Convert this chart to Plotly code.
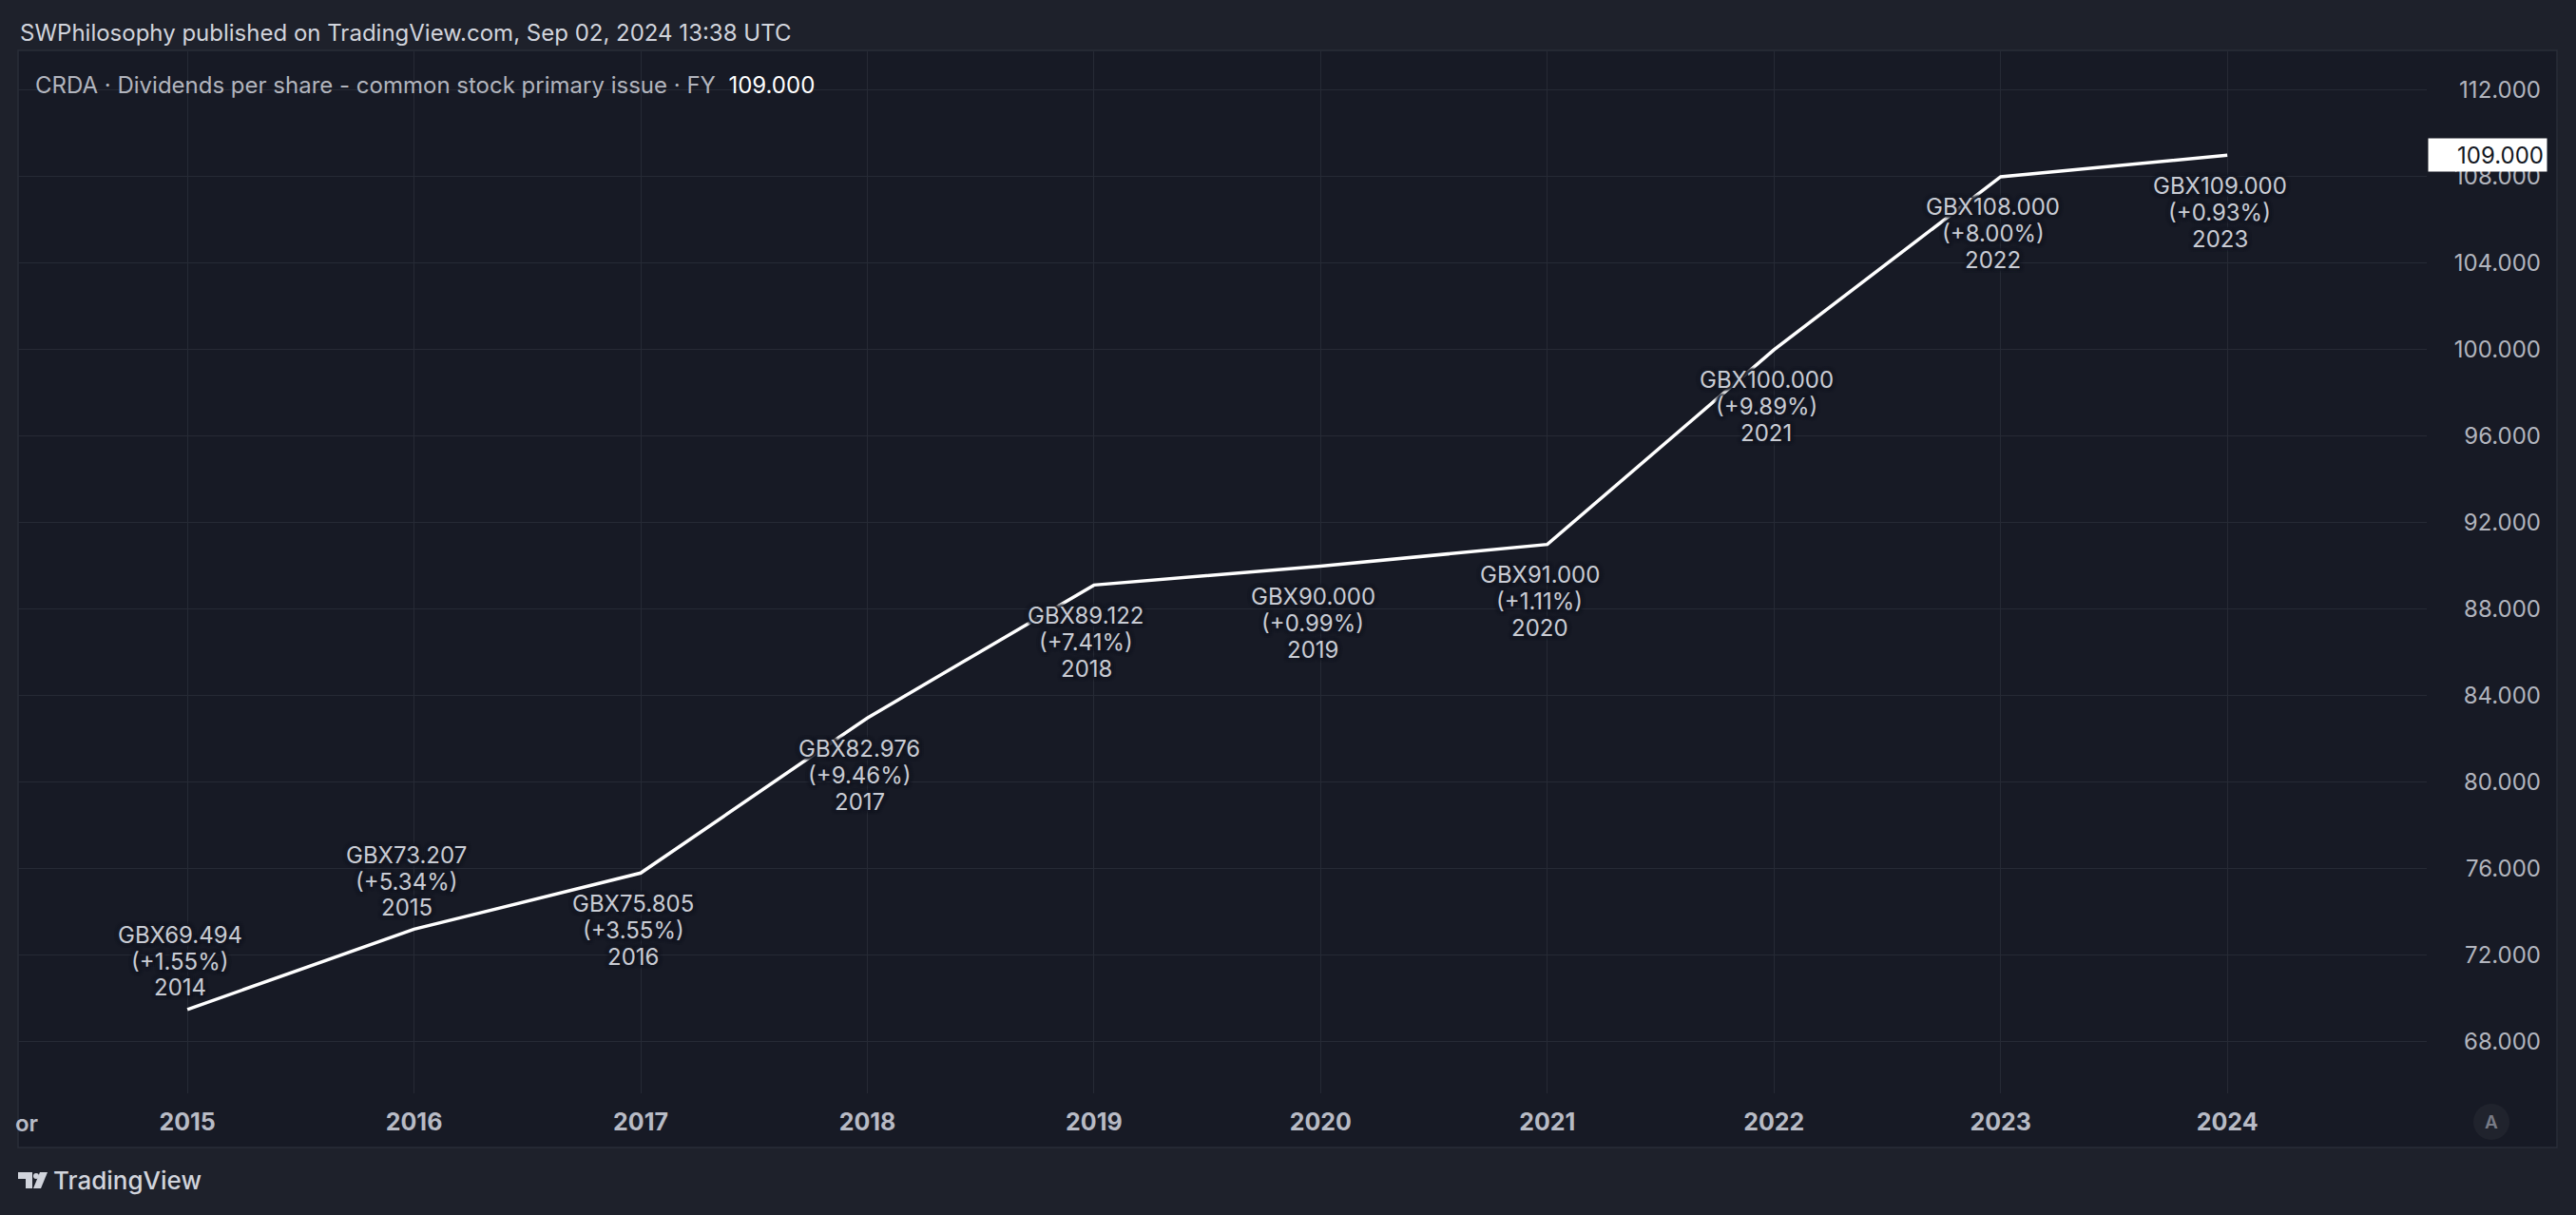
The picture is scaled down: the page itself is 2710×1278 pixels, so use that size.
import plotly.graph_objects as go

# ---- data ----
fiscal_years = [2014, 2015, 2016, 2017, 2018, 2019, 2020, 2021, 2022, 2023]
dps_values = [69.494, 73.207, 75.805, 82.976, 89.122, 90.000, 91.000, 100.000, 108.000, 109.000]
pct_change = [1.55, 5.34, 3.55, 9.46, 7.41, 0.99, 1.11, 9.89, 8.00, 0.93]
x_tick_years = [2015, 2016, 2017, 2018, 2019, 2020, 2021, 2022, 2023, 2024]
y_tick_vals = [68, 72, 76, 80, 84, 88, 92, 96, 100, 104, 108, 112]

W, H = 2710, 1278
OUTER_BG = "#1e212b"
PANE_BG = "#171a25"
GRID = "#262a35"
TXT = "#d1d4dc"
AX_TXT = "#b2b5be"
FONT = "Inter"


def px(p):
    return p / W


def py(p):
    return 1 - p / H


# period end of each fiscal year sits on the next year boundary
x_pos = [fy + 1 for fy in fiscal_years]

fig = go.Figure()
fig.add_trace(go.Scatter(
    x=x_pos, y=dps_values, mode="lines",
    line=dict(color="#ffffff", width=3.5),
    hoverinfo="skip", showlegend=False,
))

PLOT_L, PLOT_R, PLOT_T, PLOT_B = 19, 2553, 54, 1150

shapes = [
    # pane background + border
    dict(type="rect", xref="paper", yref="paper", x0=px(19), x1=px(2690), y0=py(1207), y1=py(53),
         fillcolor=PANE_BG, line=dict(color="#2a2e39", width=1.5), layer="below"),
    # auto scale button
    dict(type="circle", xref="paper", yref="paper", x0=px(2602), x1=px(2640), y0=py(1199), y1=py(1161),
         fillcolor="#20232d", line=dict(width=0)),
    # TradingView logo
    dict(type="path", xref="paper", yref="paper",
         path=f"M {px(19)} {py(1233)} L {px(34)} {py(1233)} L {px(34)} {py(1250)} L {px(27)} {py(1250)} "
              f"L {px(27)} {py(1240)} L {px(19)} {py(1240)} Z",
         fillcolor="#d1d4dc", line=dict(width=0)),
    dict(type="circle", xref="paper", yref="paper", x0=px(35), x1=px(41), y0=py(1240), y1=py(1234),
         fillcolor="#d1d4dc", line=dict(width=0)),
    dict(type="path", xref="paper", yref="paper",
         path=f"M {px(42)} {py(1233)} L {px(50)} {py(1233)} L {px(43)} {py(1250)} L {px(35)} {py(1250)} Z",
         fillcolor="#d1d4dc", line=dict(width=0)),
]

halo = ", ".join([f"{a}px {b}px 3px {PANE_BG}" for a in (-2, 0, 2) for b in (-2, 0, 2)])

annotations = [
    dict(text="SWPhilosophy published on TradingView.com, Sep 02, 2024 13:38 UTC",
         xref="paper", yref="paper", x=px(19), y=py(35), xanchor="left", yanchor="middle",
         showarrow=False, font=dict(family=FONT, size=24, color=TXT)),
    dict(text=("CRDA · Dividends per share - common stock primary issue · FY&nbsp;&nbsp;"
               f"<span style='color:#ffffff'>{dps_values[-1]:.3f}</span>"),
         xref="paper", yref="paper", x=px(35), y=py(89), xanchor="left", yanchor="middle",
         showarrow=False, font=dict(family=FONT, size=24, color=AX_TXT)),
    dict(text="TradingView", xref="paper", yref="paper", x=px(54), y=py(1241),
         xanchor="left", yanchor="middle", showarrow=False,
         font=dict(family=FONT, size=26, color=TXT, weight=500)),
    dict(text="A", xref="paper", yref="paper", x=px(2621), y=py(1180), xanchor="center", yanchor="middle",
         showarrow=False, font=dict(family=FONT, size=19, color="#787b86", weight=600)),
    dict(text="or", xref="paper", yref="paper", x=px(14), y=py(1181), xanchor="left", yanchor="middle",
         showarrow=False, font=dict(family=FONT, size=24, color="#b8bbc5", weight=600)),
    # last value price label
    dict(text=f"{dps_values[-1]:.3f}", xref="paper", yref="y", x=px(2680), y=dps_values[-1],
         xanchor="right", yanchor="middle", showarrow=False, bgcolor="#ffffff",
         width=118, height=28, borderpad=3, align="right",
         font=dict(family=FONT, size=24, color="#131722")),
]

label_above = {2014, 2015}
below_offsets = [32, 60, 88]
above_offsets = [-78, -50, -23]
for fy, xv, v, p in zip(fiscal_years, x_pos, dps_values, pct_change):
    lines = [f"GBX{v:.3f}", f"(+{p:.2f}%)", f"{fy}"]
    offs = above_offsets if fy in label_above else below_offsets
    for txt, off in zip(lines, offs):
        annotations.append(dict(
            text=txt, x=xv, y=v, xref="x", yref="y", showarrow=False,
            xanchor="center", yanchor="middle", xshift=-8, yshift=-off,
            font=dict(family=FONT, size=24, color="#c9ccd4", shadow=halo),
        ))

fig.update_layout(
    width=W, height=H, autosize=False,
    margin=dict(l=0, r=0, t=0, b=0),
    paper_bgcolor=OUTER_BG, plot_bgcolor=PANE_BG,
    shapes=shapes, annotations=annotations,
    xaxis=dict(
        domain=[px(PLOT_L), px(PLOT_R)], range=[2014.253, 2024.88],
        tickvals=x_tick_years, ticktext=[str(y) for y in x_tick_years],
        showgrid=True, gridcolor=GRID, gridwidth=1, zeroline=False, showline=False,
        ticks="", ticklabelstandoff=13,
        tickfont=dict(family=FONT, size=25, color="#b8bbc5", weight=700),
    ),
    yaxis=dict(
        domain=[py(PLOT_B), py(PLOT_T)], range=[65.62, 113.80],
        side="right", anchor="free", position=px(2676),
        ticklabelposition="inside",
        tickvals=y_tick_vals, ticktext=[f"{v:.3f}" for v in y_tick_vals],
        showgrid=True, gridcolor=GRID, gridwidth=1, zeroline=False, showline=False,
        ticks="", tickfont=dict(family=FONT, size=24, color=AX_TXT),
    ),
    hovermode=False,
)

fig.write_html("out.html", config={"displayModeBar": False},
               post_script="document.body.style.margin='0';document.body.style.overflow='hidden';")
